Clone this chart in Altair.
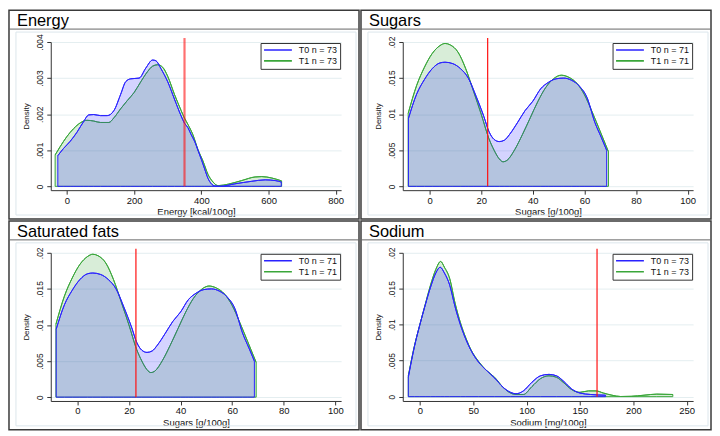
import altair as alt
import pandas as pd

# ---------------- data ----------------
titles = ["Energy", "Sugars", "Saturated fats", "Sodium"]
x_titles = ["Energy [kcal/100g]", "Sugars [g/100g]", "Sugars [g/100g]", "Sodium [mg/100g]"]
n_counts = [73, 71, 71, 73]
cutoffs = [350, 22.5, 22.7, 166]
x_domains = [[-48, 816], [-10.4, 102.1], [-10.3, 102.2], [-16, 256]]
y_domains = [[-0.000106, 0.004], [-0.00053, 0.02], [-0.00053, 0.02], [-0.0006, 0.02]]
x_ticks = [[0, 200, 400, 600, 800], [0, 20, 40, 60, 80, 100],
           [0, 20, 40, 60, 80, 100], [0, 50, 100, 150, 200, 250]]
y_ticks = [[0, 0.001, 0.002, 0.003, 0.004], [0, 0.005, 0.01, 0.015, 0.02],
           [0, 0.005, 0.01, 0.015, 0.02], [0, 0.005, 0.01, 0.015, 0.02]]

energy_t0_x = [-27, -10, 10, 30, 50, 65, 80, 100, 120, 140, 160, 175, 190, 215, 235, 255, 265, 280,
               300, 320, 340, 350, 360, 370, 380, 390, 400, 410, 420, 430, 440, 455, 500, 550, 590, 620, 638]
energy_t0_d = [0.00085, 0.00105, 0.00125, 0.00150, 0.00180, 0.00198, 0.00199, 0.00196, 0.00196, 0.00210,
               0.00255, 0.00290, 0.00298, 0.00300, 0.00328, 0.00350, 0.00348, 0.00326, 0.00290, 0.00242,
               0.00195, 0.00175, 0.00163, 0.00143, 0.00125, 0.00100, 0.00075, 0.00048, 0.00022, 0.00007,
               0.00001, 0.0, 0.00007, 0.00014, 0.00018, 0.00016, 0.00012]
energy_t1_x = [-35, -20, 0, 20, 40, 60, 80, 100, 125, 140, 160, 180, 200, 220, 240, 255, 270, 285, 300,
               320, 340, 350, 360, 375, 390, 405, 420, 435, 450, 480, 520, 560, 580, 610, 639]
energy_t1_d = [0.00087, 0.00110, 0.00138, 0.00160, 0.00176, 0.00183, 0.00181, 0.00177, 0.00177, 0.00190,
               0.00215, 0.00238, 0.00260, 0.00290, 0.00318, 0.00333, 0.00337, 0.00330, 0.00305, 0.00255,
               0.00210, 0.00189, 0.00172, 0.00143, 0.00102, 0.00070, 0.00033, 0.00012, 0.00002, 0.00006,
               0.00016, 0.00026, 0.00027, 0.00023, 0.00015]

sugars_t0_x = [-8.2, -5, -2, 1, 4, 6, 9, 12, 15, 18, 21, 23, 25, 27, 29, 31, 34, 37, 40, 43,
               46, 49, 52, 55, 58, 61, 64, 66.5, 68.6]
sugars_t0_d = [0.0094, 0.0128, 0.0148, 0.0163, 0.0171, 0.0172, 0.0170, 0.0163, 0.0150, 0.0125,
               0.0097, 0.0076, 0.0065, 0.0062, 0.0064, 0.0072, 0.0088, 0.0105, 0.0118, 0.0135,
               0.0144, 0.0149, 0.0150, 0.0147, 0.0139, 0.0123, 0.0089, 0.0068, 0.0050]
sugars_t1_x = [-8.3, -5, -2, 1, 4, 6, 8, 11, 14, 17, 20, 23, 25, 27, 28.5, 30, 33, 36, 39, 42,
               45, 48, 51, 54, 57, 60, 63, 66, 69.3]
sugars_t1_d = [0.0101, 0.0140, 0.0165, 0.0184, 0.0195, 0.0198, 0.0196, 0.0186, 0.0163, 0.0132,
               0.0100, 0.0066, 0.0050, 0.0038, 0.0034, 0.0036, 0.0051, 0.0072, 0.0095, 0.0118,
               0.0137, 0.0149, 0.0154, 0.0151, 0.0143, 0.0127, 0.0103, 0.0077, 0.0048]

sodium_t0_x = [-10.8, -5, 0, 5, 10, 15, 19, 23, 28, 33, 38, 43, 48, 55, 62, 70, 78, 85, 90, 97,
               105, 113, 121, 128, 135, 142, 150, 160, 174]
sodium_t0_d = [0.0027, 0.0070, 0.0100, 0.0127, 0.0152, 0.0172, 0.0180, 0.0172, 0.0155, 0.0125,
               0.0100, 0.0080, 0.0064, 0.0048, 0.0037, 0.0026, 0.0013, 0.0006, 0.0004, 0.0008,
               0.0020, 0.0029, 0.0031, 0.0029, 0.0021, 0.0011, 0.0005, 0.0003, 0.0002]
sodium_t1_x = [-10.8, -5, 0, 5, 10, 15, 19.5, 23, 28, 33, 38, 43, 48, 55, 62, 70, 78, 85, 90, 97,
               105, 113, 121, 128, 135, 142, 150, 158, 165, 172, 180, 188, 198, 210, 222, 237]
sodium_t1_d = [0.0029, 0.0071, 0.0100, 0.0128, 0.0155, 0.0177, 0.0188, 0.0180, 0.0164, 0.0130,
               0.0103, 0.0082, 0.0065, 0.0049, 0.0037, 0.0027, 0.0013, 0.0005, 0.0003, 0.0003,
               0.0014, 0.0025, 0.0029, 0.0027, 0.0019, 0.0010, 0.0006, 0.0008, 0.0008, 0.0005,
               0.0002, 0.00002, 0.00005, 0.0002, 0.00035, 0.0003]

series = [
    (energy_t0_x, energy_t0_d, energy_t1_x, energy_t1_d),
    (sugars_t0_x, sugars_t0_d, sugars_t1_x, sugars_t1_d),
    (sugars_t0_x, sugars_t0_d, sugars_t1_x, sugars_t1_d),
    (sodium_t0_x, sodium_t0_d, sodium_t1_x, sodium_t1_d),
]

# ---------------- styling / layout ----------------
FONT = "Liberation Sans"
BLUE = "#2A22FF"
GREEN = "#3AA63A"
W, H = 292, 149
FL, FR, FT, FB = -42, W + 18, -32, H + 29
cut_width = [2.2, 1.2, 1.2, 1.2]
cut_opacity = [0.6, 1.0, 1.0, 1.0]
one_row = [{"k": 1}]


def panel(i):
    t0x, t0d, t1x, t1d = series[i]
    lab0 = f"T0 n = {n_counts[i]}"
    lab1 = f"T1 n = {n_counts[i]}"
    df0 = pd.DataFrame({"x": t0x, "d": t0d, "grp": lab0})
    df1 = pd.DataFrame({"x": t1x, "d": t1d, "grp": lab1})
    cscale = alt.Scale(domain=[lab0, lab1], range=[BLUE, GREEN])

    xenc = alt.X("x:Q", scale=alt.Scale(domain=x_domains[i], nice=False, zero=False),
                 axis=alt.Axis(values=x_ticks[i], title=x_titles[i], grid=False,
                               labelFontSize=9.5, labelFont=FONT, labelColor="#111",
                               labelPadding=1, tickSize=4, tickColor="#333", domainColor="#333",
                               titleFontSize=9.5, titleFont=FONT, titleFontWeight="normal",
                               titleColor="#111", titlePadding=2, labelFlush=False))
    yenc = alt.Y("d:Q", stack=None,
                 scale=alt.Scale(domain=y_domains[i], nice=False, zero=False),
                 axis=alt.Axis(values=y_ticks[i], title="Density", grid=True,
                               gridColor="#E4EEF0", gridWidth=1,
                               labelExpr="datum.value == 0 ? '0' : replace(format(datum.value, '~g'), '0.', '.')",
                               labelAngle=270, labelAlign="center", labelBaseline="bottom",
                               labelFontSize=8.5, labelFont=FONT, labelColor="#111", labelPadding=2,
                               tickSize=4, tickColor="#333", domainColor="#333",
                               titleFontSize=8, titleFont=FONT, titleFontWeight="normal",
                               titleColor="#111", titlePadding=5))
    legend = alt.Legend(
        title=None, orient="top-right", offset=1, symbolType="stroke",
        symbolSize=784, symbolStrokeWidth=1.6, clipHeight=9, labelFontSize=9, labelFont=FONT,
        labelColor="#111", labelOffset=6, padding=2.5, rowPadding=1,
        strokeColor="#333", fillColor="white", cornerRadius=0)

    def area(df, col):
        return alt.Chart(df).mark_area(
            fill=col, fillOpacity=0.2, stroke=col, strokeWidth=1, interpolate="monotone"
        ).encode(x=xenc, y=yenc)

    def line(df):
        return alt.Chart(df).mark_line(strokeWidth=1, interpolate="monotone").encode(
            x=xenc, y=yenc, color=alt.Color("grp:N", scale=cscale, legend=legend))

    frame = alt.Chart(alt.Data(values=one_row)).mark_rect(
        fillOpacity=0, stroke="#3a3a3a", strokeWidth=1.5).encode(
        x=alt.value(FL), x2=alt.value(FR), y=alt.value(FT), y2=alt.value(FB))
    inner = alt.Chart(alt.Data(values=one_row)).mark_rect(
        fillOpacity=0, stroke="#DCE6EC", strokeWidth=1).encode(
        x=alt.value(FL + 7), x2=alt.value(FR - 3), y=alt.value(-10), y2=alt.value(FB - 4))
    band = alt.Chart(alt.Data(values=one_row)).mark_rule(color="#666", strokeWidth=1).encode(
        x=alt.value(FL), x2=alt.value(FR), y=alt.value(-13))
    title = alt.Chart(alt.Data(values=one_row)).mark_text(
        text=titles[i], align="left", baseline="alphabetic", fontSize=16.5, font=FONT,
        color="black").encode(x=alt.value(FL + 8), y=alt.value(-16))
    cut = alt.Chart(pd.DataFrame({"x": [cutoffs[i]], "d": [0.0]})).mark_rule(
        color="#FF1010", strokeWidth=cut_width[i], opacity=cut_opacity[i]).encode(
        x=xenc, y=yenc, y2=alt.value(-4))

    return alt.layer(frame, inner, band, title,
                     area(df1, GREEN), line(df1), area(df0, BLUE), line(df0), cut).properties(
        width=W, height=H)


chart = alt.concat(*[panel(i) for i in range(4)], columns=2, spacing=0).resolve_scale(
    x="independent", y="independent", color="independent"
).resolve_legend(color="independent").properties(padding=0).configure(
    font=FONT, background="white"
).configure_view(strokeWidth=0)

chart.save("out.html", embed_options={"renderer": "svg", "actions": False})
